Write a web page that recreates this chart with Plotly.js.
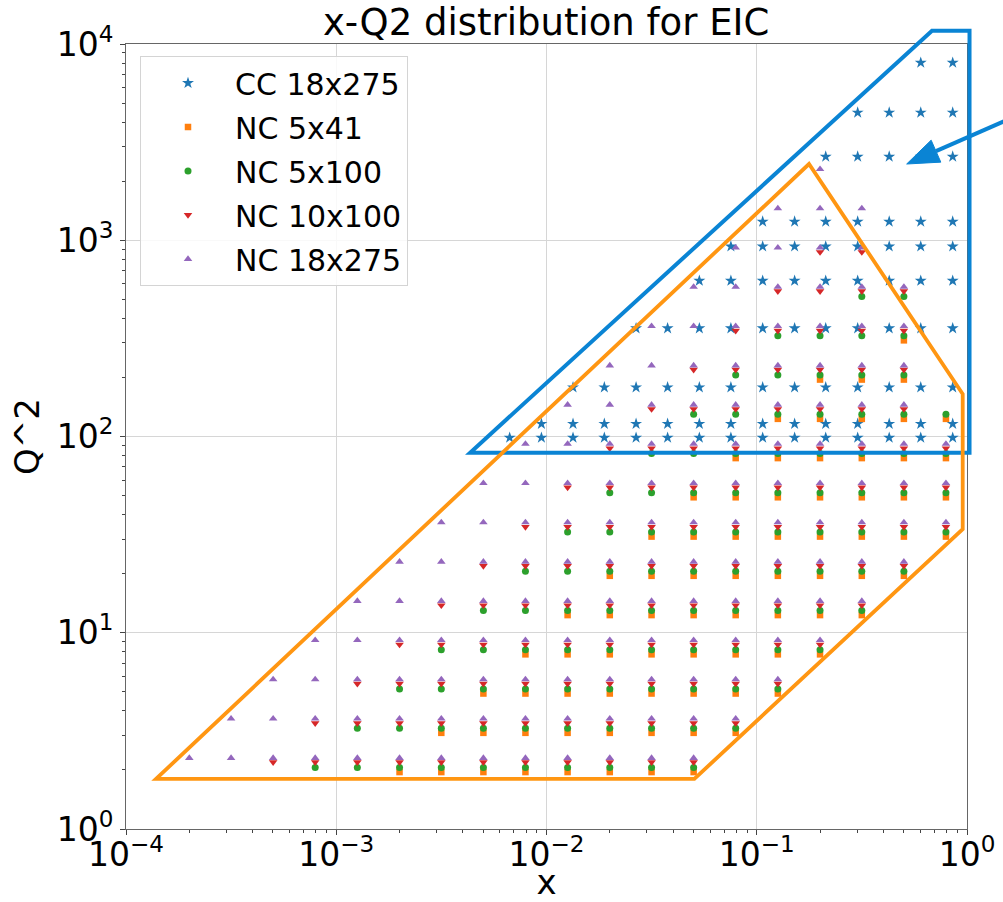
<!DOCTYPE html>
<html><head><meta charset="utf-8">
<script src="https://cdn.plot.ly/plotly-3.0.1.min.js"></script>
<style>html,body{margin:0;padding:0;background:#fff}#chart{width:1003px;height:902px}</style>
</head><body><div id="chart"></div>
<script>
// x bins (NC grid and CC grid)
const xBinsNC = [2.0e-4, 3.16e-4, 5.01e-4, 7.94e-4, 1.26e-3, 2.0e-3, 3.16e-3, 5.01e-3, 7.94e-3, 0.0126, 0.0200, 0.0316, 0.0501, 0.0794, 0.126, 0.200, 0.316, 0.501, 0.794];
const xBinsCC = [0.00668, 0.00946, 0.01337, 0.01884, 0.02667, 0.03767, 0.05333, 0.07534, 0.1067, 0.1514, 0.2128, 0.3020, 0.4266, 0.6026, 0.855];

// Q2 of each row, and [first, last] occupied x-bin index of that row
const q2CC18x275   = [98.6, 116, 178, 356, 622, 930, 1244, 2667, 4470, 8030];
const spanCC18x275 = [[0,14],[1,14],[2,14],[4,14],[6,14],[7,14],[8,14],[10,14],[11,14],[13,14]];

const q2NC5x41   = [1.95, 3.09, 4.90, 7.76, 12.3, 19.5, 30.9, 49.0, 77.6, 123, 195, 309];
const spanNC5x41 = [[5,12],[6,13],[7,14],[8,15],[9,16],[10,17],[11,18],[12,18],[13,18],[14,18],[15,17],[17,17]];

const q2NC5x100   = [2.06, 3.26, 5.17, 8.18, 13.0, 20.6, 32.6, 51.7, 81.8, 130, 206, 326, 517];
const spanNC5x100 = [[3,12],[4,13],[5,14],[6,15],[7,16],[8,17],[9,18],[10,18],[11,18],[12,18],[13,17],[14,17],[16,17]];

const q2NC10x100   = [2.19, 3.46, 5.50, 8.71, 13.8, 21.9, 34.6, 55.0, 87.1, 138, 219, 346, 550, 871];
const spanNC10x100 = [[2,12],[3,13],[4,14],[5,15],[6,16],[7,17],[8,18],[9,18],[10,18],[11,17],[12,17],[13,17],[14,17],[15,16]];

const q2NC18x275   = [2.30, 3.65, 5.78, 9.16, 14.5, 23.0, 36.5, 57.8, 91.6, 145, 230, 365, 578, 916, 1452, 2301];
const spanNC18x275 = [[0,12],[1,13],[2,14],[3,15],[4,16],[5,17],[6,18],[7,18],[8,18],[9,17],[10,17],[11,17],[12,17],[13,16],[14,16],[15,15]];

const seriesNames = ['CC 18x275', 'NC 5x41', 'NC 5x100', 'NC 10x100', 'NC 18x275'];

// region outlines (data coordinates)
const blueRegionX  = [4.335e-3, 0.6817, 1.028, 1.028];
const blueRegionQ2 = [82.7, 11690, 11690, 82.7];
const orangeRegionX  = [1.39e-4, 0.0505, 0.954, 0.954, 0.1772];
const orangeRegionQ2 = [1.80, 1.80, 33.7, 164.7, 2446];
const arrowTip  = [0.5165, 2446];
const arrowTail = [1.6, 4164];

function expand(q2, span, bins) {
  const xs = [], ys = [];
  q2.forEach((q, r) => {
    for (let i = span[r][0]; i <= span[r][1]; i++) { xs.push(bins[i]); ys.push(q); }
  });
  return {x: xs, y: ys};
}

const styles = [
  {color: '#1f77b4', symbol: 'star', size: 9},
  {color: '#ff7f0e', symbol: 'square', size: 6.5},
  {color: '#2ca02c', symbol: 'circle', size: 7},
  {color: '#d62728', symbol: 'triangle-down', size: 7.5},
  {color: '#9467bd', symbol: 'triangle-up', size: 7.5}
];
const sets = [
  expand(q2CC18x275, spanCC18x275, xBinsCC),
  expand(q2NC5x41, spanNC5x41, xBinsNC),
  expand(q2NC5x100, spanNC5x100, xBinsNC),
  expand(q2NC10x100, spanNC10x100, xBinsNC),
  expand(q2NC18x275, spanNC18x275, xBinsNC)
];
const traces = sets.map((s, k) => ({
  type: 'scatter', mode: 'markers', x: s.x, y: s.y, name: seriesNames[k],
  legendgroup: 'g' + k,
  marker: {color: styles[k].color, symbol: styles[k].symbol, size: styles[k].size, line: {width: 0}},
  cliponaxis: true, hoverinfo: 'x+y+name'
}));

const X_RANGE = [-4, 0], Y_RANGE = [0, 4];
const PLOT_W = 841, PLOT_H = 785;
const px = v => (Math.log10(v) - X_RANGE[0]) / (X_RANGE[1] - X_RANGE[0]);
const py = v => (Math.log10(v) - Y_RANGE[0]) / (Y_RANGE[1] - Y_RANGE[0]);

function polyPath(xs, ys) {
  return xs.map((x, i) => (i ? 'L' : 'M') + px(x).toFixed(5) + ',' + py(ys[i]).toFixed(5)).join(' ') + ' Z';
}

// arrow head (pixel-size triangle converted to paper units)
const tipP = [px(arrowTip[0]), py(arrowTip[1])];
const tailP = [px(arrowTail[0]), py(arrowTail[1])];
let dx = (tailP[0] - tipP[0]) * PLOT_W, dy = (tailP[1] - tipP[1]) * PLOT_H;
const L = Math.hypot(dx, dy); dx /= L; dy /= L;
const headLen = 32, headHalf = 12;
const baseC = [tipP[0] + dx * headLen / PLOT_W, tipP[1] + dy * headLen / PLOT_H];
const c1 = [baseC[0] + (-dy) * headHalf / PLOT_W, baseC[1] + dx * headHalf / PLOT_H];
const c2 = [baseC[0] - (-dy) * headHalf / PLOT_W, baseC[1] - dx * headHalf / PLOT_H];

const BLUE = '#0a84d4', ORANGE = '#ff9612';
const shapes = [
  {type: 'path', xref: 'paper', yref: 'paper', path: polyPath(blueRegionX, blueRegionQ2),
   line: {color: BLUE, width: 4}, fillcolor: 'rgba(0,0,0,0)', layer: 'above'},
  {type: 'path', xref: 'paper', yref: 'paper', path: polyPath(orangeRegionX, orangeRegionQ2),
   line: {color: ORANGE, width: 3.8}, fillcolor: 'rgba(0,0,0,0)', layer: 'above'},
  {type: 'line', xref: 'paper', yref: 'paper', x0: tailP[0], y0: tailP[1], x1: baseC[0], y1: baseC[1],
   line: {color: BLUE, width: 4}, layer: 'above'},
  {type: 'path', xref: 'paper', yref: 'paper',
   path: `M${tipP[0]},${tipP[1]} L${c1[0]},${c1[1]} L${c2[0]},${c2[1]} Z`,
   line: {color: BLUE, width: 1}, fillcolor: BLUE, layer: 'above'}
];

const minorVals = [];
for (let e = -4; e < 4; e++) for (let m = 2; m <= 9; m++) minorVals.push(m * Math.pow(10, e));

const FONT = 'DejaVu Sans, Liberation Sans, sans-serif';
const axisCommon = {
  type: 'log', showline: true, mirror: true, linecolor: '#666', linewidth: 1,
  showgrid: true, gridcolor: '#d6d6d6', gridwidth: 1, zeroline: false,
  ticks: 'outside', ticklen: 5, tickwidth: 1, tickcolor: '#444',
  tickfont: {family: FONT, size: 33, color: '#000'},
  minor: {tickvals: minorVals, ticks: 'outside', ticklen: 3, tickcolor: '#444', showgrid: false}
};

const layout = {
  width: 1003, height: 902,
  margin: {l: 126, r: 36, t: 44, b: 73, pad: 0},
  paper_bgcolor: '#fff', plot_bgcolor: '#fff',
  font: {family: FONT, color: '#000'},
  title: {text: 'x-Q2 distribution for EIC', font: {family: FONT, size: 37, color: '#000'},
          x: 0.5445, xanchor: 'center', yref: 'container', y: 0.990, yanchor: 'top'},
  xaxis: Object.assign({}, axisCommon, {
    range: X_RANGE,
    tickvals: [1e-4, 1e-3, 1e-2, 1e-1, 1],
    ticktext: ['10<sup>−4</sup>', '10<sup>−3</sup>', '10<sup>−2</sup>', '10<sup>−1</sup>', '10<sup>0</sup>'],
    ticklabelstandoff: -9,
    title: {text: 'x', font: {family: FONT, size: 34, color: '#000'}, standoff: 19}
  }),
  yaxis: Object.assign({}, axisCommon, {
    range: Y_RANGE,
    tickvals: [1, 10, 100, 1000, 10000],
    ticktext: ['10<sup>0</sup>', '10<sup>1</sup>', '10<sup>2</sup>', '10<sup>3</sup>', '10<sup>4</sup>'],
    title: {text: 'Q^2', font: {family: FONT, size: 34, color: '#000'}, standoff: 6}
  }),
  legend: {
    x: (140 - 126) / PLOT_W, y: 1 - (56 - 44) / PLOT_H, xanchor: 'left', yanchor: 'top',
    bgcolor: 'rgba(255,255,255,0.85)', bordercolor: '#d4d4d4', borderwidth: 1,
    font: {family: FONT, size: 30, color: '#000'}, itemwidth: 84, tracegroupgap: 2
  },
  showlegend: true,
  shapes: shapes
};

Plotly.newPlot('chart', traces, layout, {displayModeBar: false, staticPlot: true});
</script>
</body></html>
